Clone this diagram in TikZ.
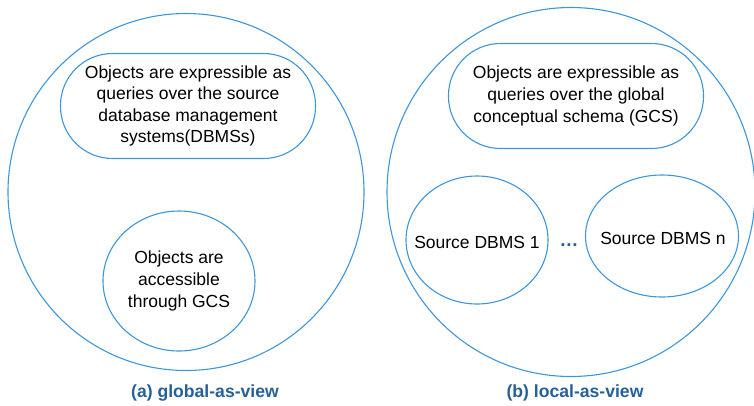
\documentclass[tikz,border=0pt]{standalone}
\usepackage{fontspec}
\setmainfont{Liberation Sans}
\usetikzlibrary{shapes.geometric}
\definecolor{edgeblue}{RGB}{62,150,218}
\definecolor{capblue}{RGB}{38,96,150}
\begin{document}
\begin{tikzpicture}[x=1pt,y=-1pt,
  outline/.style={draw=edgeblue,line width=1.1pt},
  oval/.style={outline,ellipse,inner sep=0pt},
  pill/.style={outline,rectangle,rounded corners=52pt,inner sep=0pt,
    minimum width=255pt,minimum height=105pt,align=center,
    font=\fontsize{17.5}{21.6}\selectfont},
  body/.style={font=\fontsize{17.5}{21.6}\selectfont,align=center,inner sep=0pt},
  caption/.style={text=capblue,font=\fontsize{17.6}{20}\selectfont\bfseries}]
\useasboundingbox (0,0) rectangle (754,405);
% (a) global-as-view
\node[oval,minimum width=356pt,minimum height=357pt] (gavOuter) at (186,192) {};
\node[pill] (gavQuery) at (188,106)
  {Objects are expressible as\\queries over the source\\database management\\systems(DBMSs)};
\node[oval,minimum width=152pt,minimum height=140pt] (gavAccess) at (179,281) {};
\node[body] (gavAccessText) at (gavAccess.center)
  {Objects are\\accessible\\through GCS};
\node[caption] (gavCap) at (205,393) {(a) global-as-view};
% (b) local-as-view
\node[oval,minimum width=368pt,minimum height=369pt] (lavOuter) at (571,192) {};
\node[pill] (lavQuery) at (576,96)
  {Objects are expressible as\\queries over the global\\conceptual schema (GCS)};
\node[oval,minimum width=142pt,minimum height=128pt] (src1) at (477,240) {};
\node[body] (src1Text) at (477,242) {Source DBMS 1};
\node[oval,minimum width=153pt,minimum height=122pt] (srcN) at (662,236) {};
\node[body] (srcNText) at (663,238) {Source DBMS n};
\node[text=capblue,font=\fontsize{19}{20}\selectfont\bfseries,inner sep=0pt]
  (dots) at (569,245.5) {.\kern0.6pt.\kern0.6pt.};
\node[caption] (lavCap) at (575,393) {(b) local-as-view};
\end{tikzpicture}
\end{document}
